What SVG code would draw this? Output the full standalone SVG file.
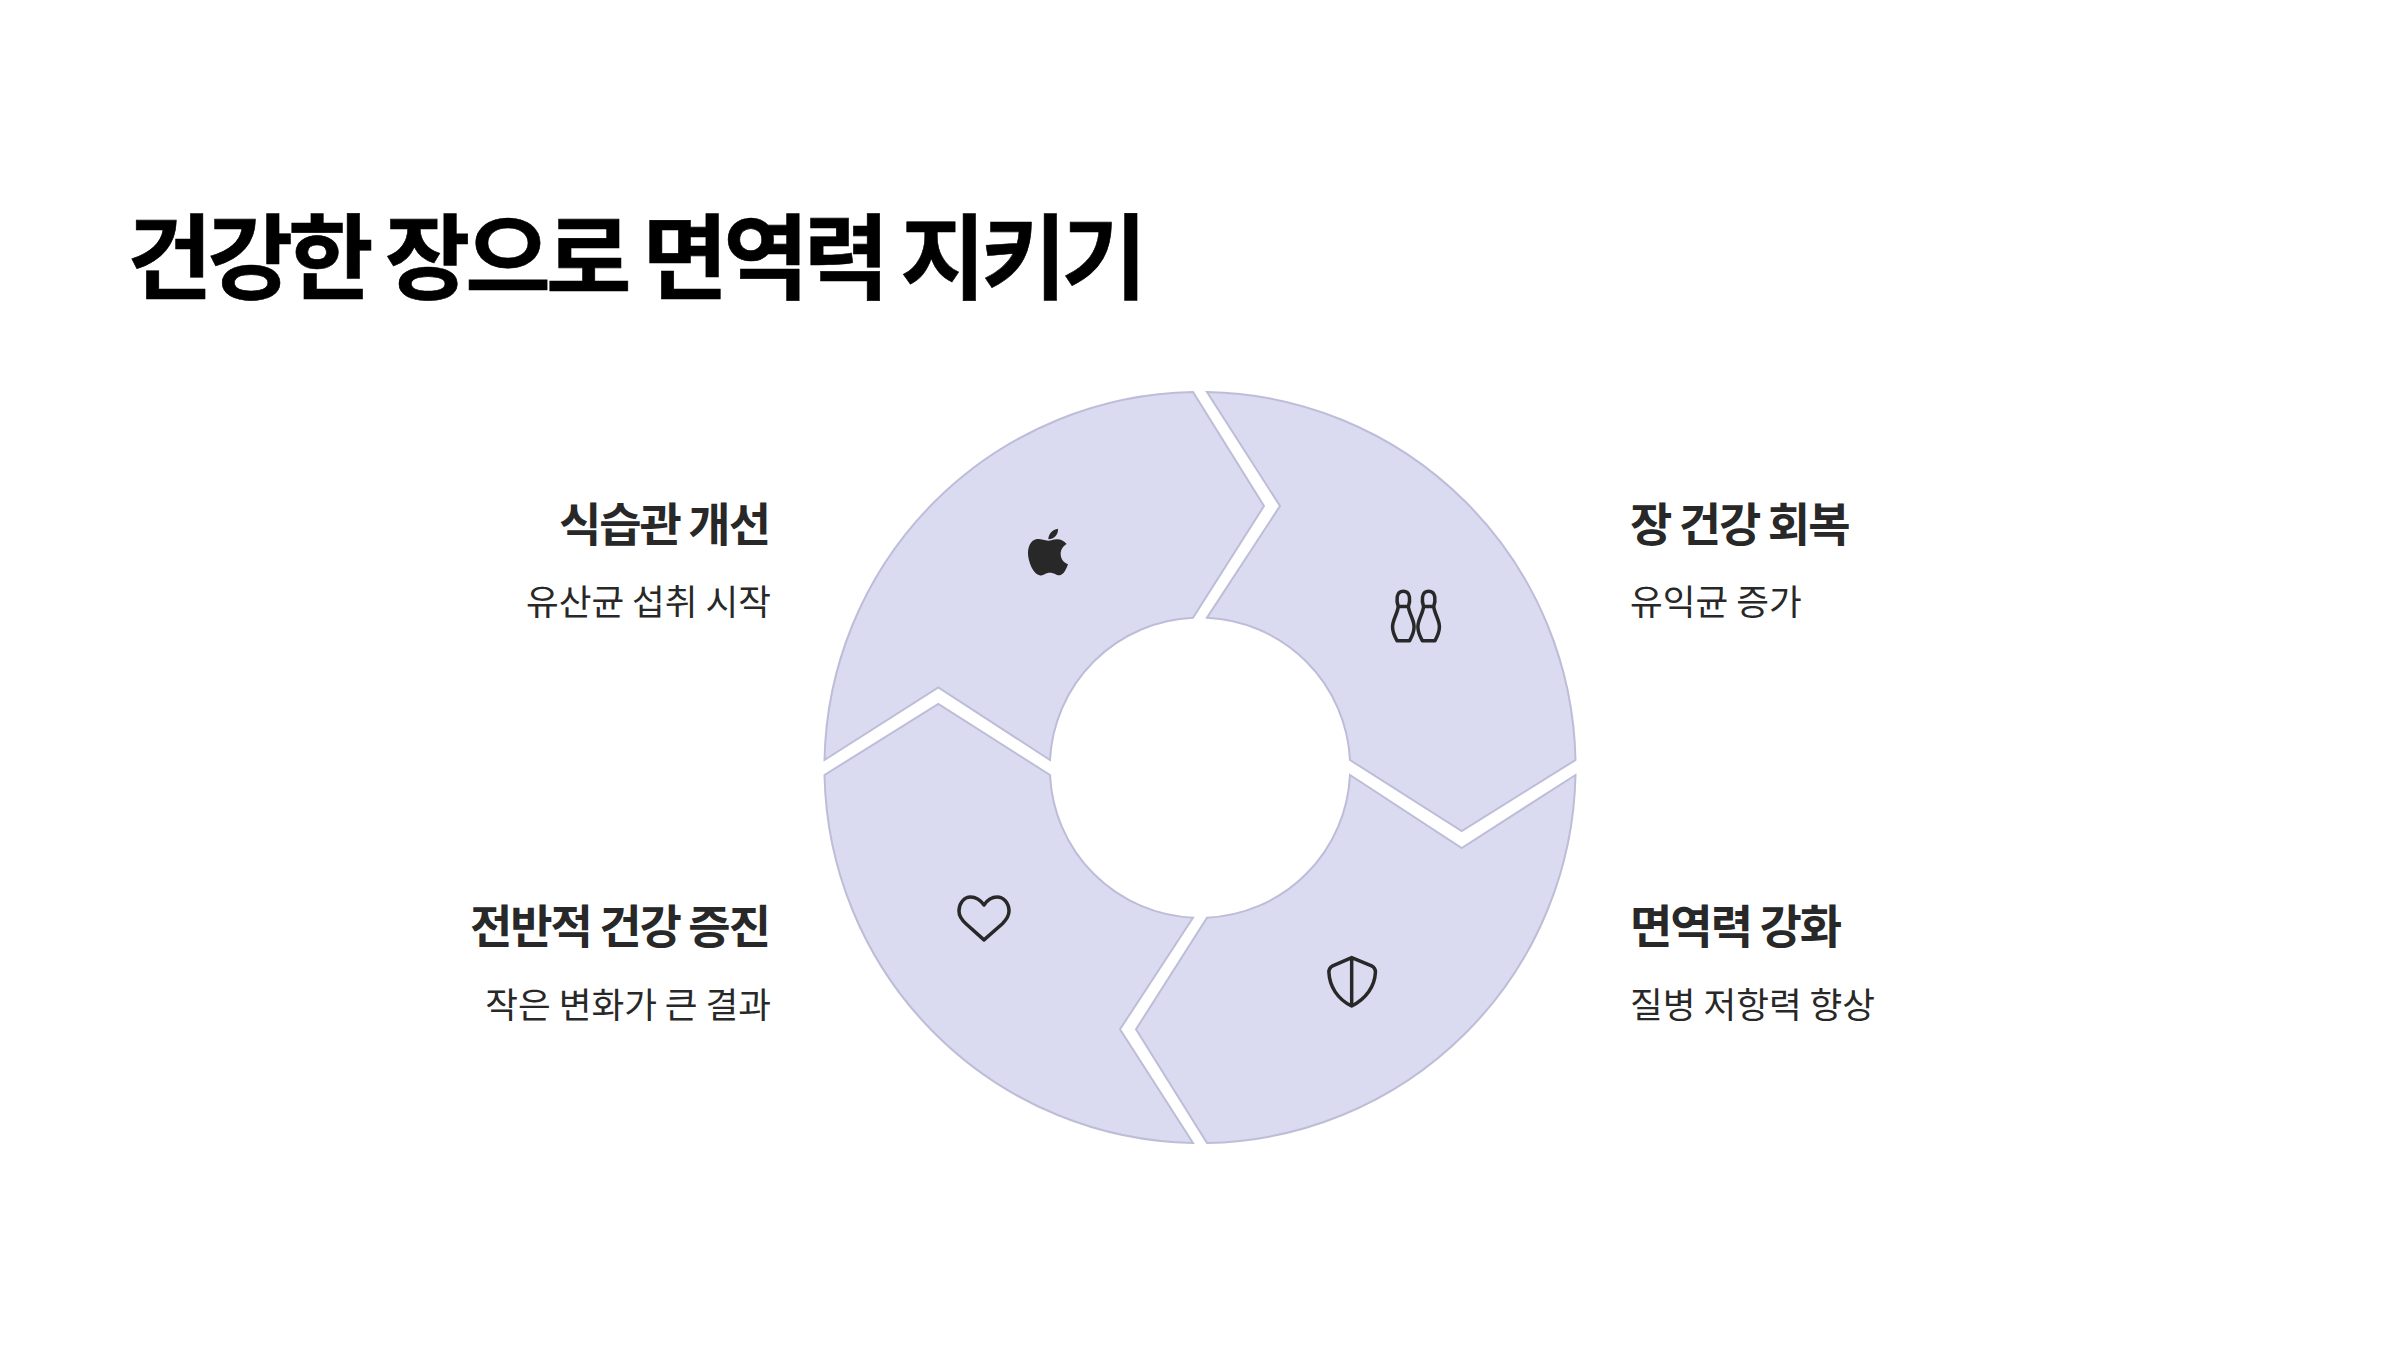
<svg xmlns="http://www.w3.org/2000/svg" width="2400" height="1350" viewBox="0 0 2400 1350">
<style>
text{font-family:"Noto Sans CJK KR","Noto Sans",sans-serif}
.t{font-size:93px;font-weight:700;fill:#000;stroke:#000;stroke-width:.6;letter-spacing:-5px}
.h{font-size:46px;font-weight:700;fill:#282828;letter-spacing:-2px}
.s{font-size:35.6px;font-weight:400;fill:#282828}
.e{text-anchor:end}
.seg{fill:#dadaf0;stroke:#bdbdd8;stroke-width:2}
.ic{fill:none;stroke:#282828;stroke-width:11;stroke-linejoin:round;stroke-linecap:round}
</style>
<rect width="2400" height="1350" fill="#fff"/>
<text id="title" class="t" x="127" y="292">건강한 장으로 면역력 지키기</text>
<g id="node-1">
<path class="seg" d="M1193 392A375.5 375.5 0 0 0 824.5 760L938.3 687.5L1050 760A150 150 0 0 1 1193 617.7L1264 506Z"/>
<g transform="translate(800 370) scale(.33333)" fill="#282828">
<path d="M745 508C745 490 760 478 774 476C775 495 762 507 745 508Z"/>
<path d="M745 512C730 512 722 505 708 508C692 512 684 530 684 550C684 575 700 612 718 616C730 618 735 608 750 608C765 608 770 618 782 615C792 612 800 595 804 583C790 578 782 565 782 552C782 538 790 528 800 522C792 512 780 507 770 508C760 508 752 512 745 512Z"/>
</g>
<text class="h e" x="769" y="541">식습관 개선</text>
<text class="s e" x="771" y="615">유산균 섭취 시작</text>
</g>
<g id="node-2">
<path class="seg" d="M1207 392A375.5 375.5 0 0 1 1575.5 760L1461.7 831L1350 760A150 150 0 0 0 1207 617.7L1280 506Z"/>
<g transform="translate(1180 370) scale(.33333) translate(707 738) scale(.95) translate(-707 -738)">
<path class="ic" d="M652 708C646 690 644 660 668 660C692 660 690 690 684 708C686 730 702 750 702 772C702 790 694 805 688 816H648C642 805 634 790 634 772C634 750 650 730 652 708ZM652 708H684"/>
<path class="ic" d="M732 708C726 690 724 660 748 660C772 660 770 690 764 708C766 730 782 750 782 772C782 790 774 805 768 816H728C722 805 714 790 714 772C714 750 730 730 732 708ZM732 708H764"/>
</g>
<text class="h" x="1630" y="541">장 건강 회복</text>
<text class="s" x="1630" y="615">유익균 증가</text>
</g>
<g id="node-3">
<path class="seg" d="M1575.5 775A375.5 375.5 0 0 1 1207 1143L1136 1029.3L1207 917.7A150 150 0 0 0 1350 775L1461.7 848Z"/>
<g transform="translate(1180 750) scale(.33333) translate(516 695) scale(.95) translate(-516 -695)">
<path class="ic" d="M515 619L455 645C445 650 443 655 443 665C445 710 470 750 515 772C560 750 588 710 590 665C590 655 588 650 578 645ZM515 619V772"/>
</g>
<text class="h" x="1630" y="943">면역력 강화</text>
<text class="s" x="1630" y="1018">질병 저항력 향상</text>
</g>
<g id="node-4">
<path class="seg" d="M1193 1143A375.5 375.5 0 0 1 824.5 775L938.3 704L1050 775A150 150 0 0 0 1193 917.7L1120 1029.3Z"/>
<g transform="translate(800 750) scale(.33333) translate(552 505) scale(.95) translate(-552 -505)">
<path class="ic" d="M552 463C540 447 525 438 510 438C488 438 473 458 473 482C473 500 485 513 495 522L552 573L610 522C620 512 631 500 631 482C631 458 615 438 593 438C578 438 563 447 552 463Z"/>
</g>
<text class="h e" x="769" y="943">전반적 건강 증진</text>
<text class="s e" x="771" y="1018">작은 변화가 큰 결과</text>
</g>
</svg>
